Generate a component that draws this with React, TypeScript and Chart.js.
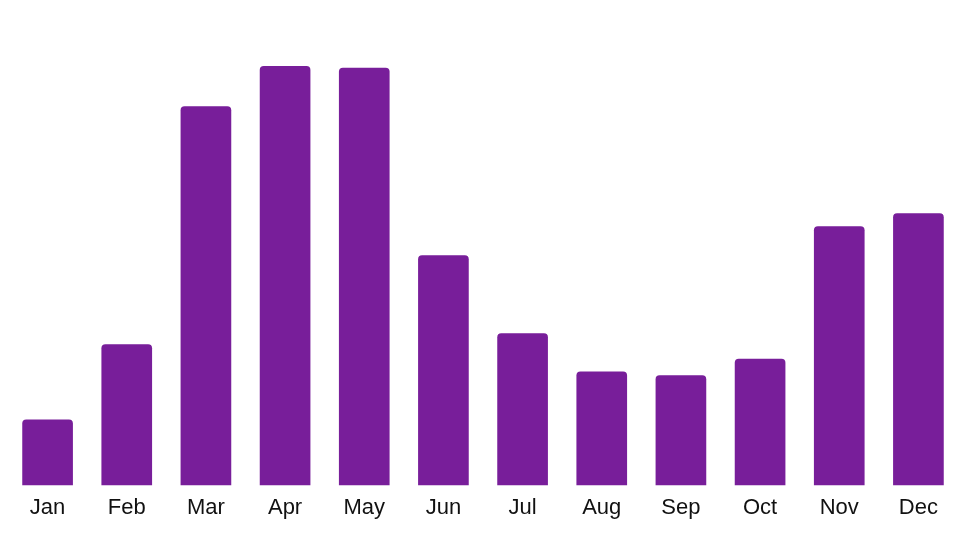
import React, { useEffect, useRef } from "react";
import { Chart, registerables } from "chart.js";

Chart.register(...registerables);

const months = ["Jan", "Feb", "Mar", "Apr", "May", "Jun", "Jul", "Aug", "Sep", "Oct", "Nov", "Dec"];
const values = [14.3, 30.6, 82.2, 90.9, 90.5, 49.9, 33.0, 24.7, 23.9, 27.5, 56.2, 59.0];
const yMax = 100;

export default function App() {
  const ref = useRef<HTMLCanvasElement | null>(null);
  useEffect(() => {
    if (!ref.current) return;
    const chart = new Chart(ref.current, {
      type: "bar",
      data: {
        labels: months,
        datasets: [
          {
            data: values,
            backgroundColor: "rgb(120,30,154)",
            borderRadius: 4,
            borderSkipped: "bottom",
            barPercentage: 0.8,
            categoryPercentage: 0.8,
          },
        ],
      },
      options: {
        animation: false,
        responsive: false,
        maintainAspectRatio: false,
        layout: { padding: { left: 8, right: 17, top: 24, bottom: 16 } },
        plugins: { legend: { display: false }, tooltip: { enabled: false } },
        scales: {
          x: {
            grid: { display: false, drawTicks: false },
            border: { display: false },
            ticks: {
              padding: 9,
              color: "#111111",
              font: { family: "Arial, 'Liberation Sans', sans-serif", size: 22 },
            },
          },
          y: {
            display: false,
            min: 0,
            max: yMax,
          },
        },
      },
    });
    return () => chart.destroy();
  }, []);
  return (
    <div style={{ position: "fixed", left: 0, top: 0, width: 975, height: 546, background: "#fff" }}>
      <canvas ref={ref} width={975} height={546} />
    </div>
  );
}
